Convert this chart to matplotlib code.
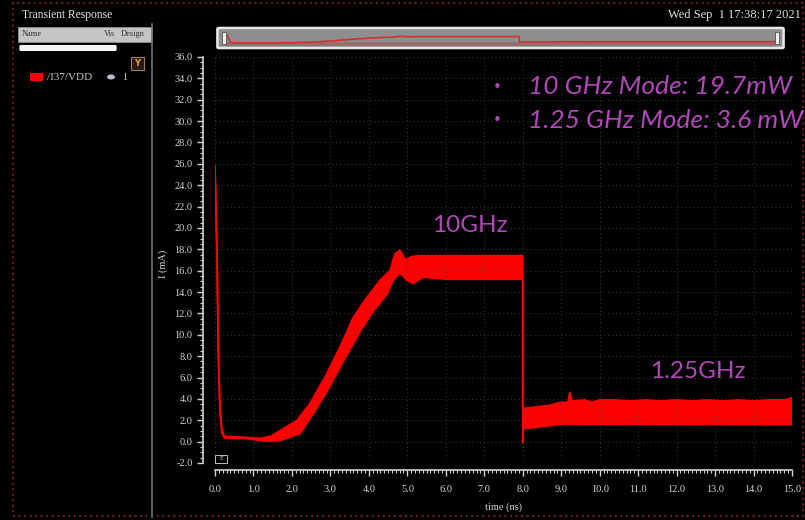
import matplotlib
matplotlib.use("Agg")
import matplotlib.pyplot as plt
from matplotlib.lines import Line2D
from matplotlib.patches import Rectangle, FancyBboxPatch, Ellipse
from matplotlib.ticker import MultipleLocator, FormatStrFormatter

# /I37/VDD current (upper / lower edge of the band)
upper_t = [0.0, 0.05, 0.09, 0.13, 0.18, 0.25, 0.8, 1.17, 1.45, 1.69, 2.13, 2.47,
           2.91, 3.33, 3.59, 3.95, 4.29, 4.55, 4.68, 4.81, 4.95, 5.1, 5.3, 6.0,
           7.0, 8.0, 8.0, 8.7, 8.95, 9.18, 9.22, 9.28, 9.6, 9.8, 10.0, 10.4,
           10.8, 11.2, 11.6, 12.0, 12.4, 12.8, 13.2, 13.6, 14.0, 14.4, 14.8, 15.0]
upper_i = [25.8, 18.0, 8.0, 3.0, 1.0, 0.5, 0.4, 0.3, 0.5, 1.03, 1.97, 3.56,
           6.37, 9.46, 11.6, 13.5, 15.1, 16.0, 17.6, 17.9, 17.0, 17.3, 17.4, 17.4,
           17.4, 17.4, 3.1, 3.4, 3.65, 3.7, 4.6, 3.8, 3.9, 3.7, 3.9, 3.9,
           3.8, 3.9, 3.8, 3.9, 3.8, 3.9, 3.8, 3.9, 3.8, 3.9, 3.9, 4.1]
lower_t = [0.0, 0.05, 0.09, 0.13, 0.18, 0.25, 0.8, 1.17, 1.4, 1.69, 2.21, 2.55,
           2.91, 3.33, 3.77, 4.11, 4.47, 4.63, 4.81, 4.99, 5.15, 5.41, 6.0, 8.0,
           8.0, 8.02, 8.7, 9.0, 15.0]
lower_i = [25.6, 17.8, 7.8, 2.8, 0.8, 0.35, 0.3, 0.1, 0.05, 0.1, 0.75, 2.6,
           4.7, 7.5, 10.3, 12.2, 13.8, 15.1, 15.8, 15.1, 14.8, 15.4, 15.2, 15.2,
           -0.1, 1.2, 1.5, 1.65, 1.6]

y_ticks = [-2.0 + 2.0 * k for k in range(20)]
x_ticks = list(range(16))

W, H = 805, 520
RED = "#ff0000"
PURPLE = "#b048b8"
TICK_GREY = "#d4d4d4"
SERIF = "Liberation Serif"


def fx(x):
    return x / W


def fy(y):
    return 1 - y / H


fig = plt.figure(figsize=(8.05, 5.2), dpi=100, facecolor="black")

# main waveform axes
ax = fig.add_axes([fx(215), fy(463), 577 / W, 406 / H], facecolor="black")
ax.fill(upper_t + lower_t[::-1], upper_i + lower_i[::-1], color=RED, lw=0)
ax.plot(upper_t, upper_i, color=RED, lw=1.3)
ax.plot(lower_t, lower_i, color=RED, lw=1.3)

ax.set_xlim(0, 15)
ax.set_ylim(-2, 36)
ax.set_xticks(x_ticks)
ax.set_yticks(y_ticks)
ax.xaxis.set_minor_locator(MultipleLocator(0.1))
ax.yaxis.set_minor_locator(MultipleLocator(0.5))
ax.xaxis.set_major_formatter(FormatStrFormatter("%.1f"))
ax.yaxis.set_major_formatter(FormatStrFormatter("%.1f"))
ax.grid(True, which="major", color="#3c3c3c", linestyle=(0, (1, 3)), lw=0.7)

for side in ("top", "right"):
    ax.spines[side].set_visible(False)
ax.spines["left"].set_position(("outward", 8.6))
ax.spines["bottom"].set_position(("outward", 5))
for side in ("left", "bottom"):
    ax.spines[side].set_color(TICK_GREY)
    ax.spines[side].set_linewidth(1.2)

ax.tick_params(which="major", colors=TICK_GREY, length=4.5, width=1.0,
               labelsize=7.5, labelcolor=TICK_GREY)
ax.tick_params(which="minor", colors=TICK_GREY, length=2, width=0.8)
ax.tick_params(axis="x", which="major", pad=6)
ax.tick_params(axis="y", which="major", pad=3)
for lab in ax.get_xticklabels() + ax.get_yticklabels():
    lab.set_family(SERIF)

ax.set_xlabel("time (ns)", family=SERIF, fontsize=7.5, color=TICK_GREY)
ax.set_ylabel("I (mA)", family=SERIF, fontsize=7.5, color=TICK_GREY)
ax.xaxis.set_label_coords(0.5, -0.098)
ax.yaxis.set_label_coords(-0.082, 0.49)

# annotations
fig.text(fx(432), fy(226), "10GHz", color=PURPLE, fontsize=17.5, family="Lato",
         va="center")
fig.text(fx(650), fy(372), "1.25GHz", color=PURPLE, fontsize=17.5, family="Lato",
         va="center")
for yy, txt in [(87, "10 GHz Mode: 19.7mW"), (120, "1.25 GHz Mode: 3.6 mW")]:
    fig.text(fx(493), fy(yy), "\u2022", color=PURPLE, fontsize=11, va="center")
    fig.text(fx(528), fy(yy), txt, color=PURPLE, fontsize=19, family="Lato",
             style="italic", va="center")

# overview / scroll bar at the top
fig.add_artist(FancyBboxPatch((fx(219), fy(47)), fx(563), 18 / H,
                              boxstyle="round,pad=0.002", transform=fig.transFigure,
                              facecolor="#8e8e8e", edgecolor="#e8e8e8", lw=1.8))
ov = fig.add_axes([fx(226), fy(46), fx(550), 16 / H], facecolor="none", zorder=3)
ov.fill_between([0, 15], [-7.5, -7.5], [2, 2], color="#9a5a5a", alpha=0.6, lw=0)
ov.plot(upper_t, upper_i, color="#d03030", lw=1.2)
ov.set_xlim(0, 15)
ov.set_ylim(-7.5, 34.8)
ov.axis("off")
for xx in (224, 777):
    fig.add_artist(Rectangle((fx(xx - 2), fy(44)), 4 / W, 12 / H, transform=fig.transFigure,
                             facecolor="#f0f0f0", edgecolor="#505050", lw=0.6, zorder=4))

fig.text(fx(801), fy(15), "Wed Sep  1 17:38:17 2021", color="#e0e0e0", fontsize=9,
         family=SERIF, ha="right", va="center")

# left panel (signal browser)
fig.text(fx(22), fy(15), "Transient Response", color="#e8e8e8", fontsize=8.3,
         family=SERIF, va="center")
fig.add_artist(Rectangle((fx(18), fy(42)), fx(134), 15 / H, transform=fig.transFigure,
                         facecolor="#c4c4c4", edgecolor="#909090", lw=0.6))
fig.text(fx(22), fy(34), "Name", color="#303030", fontsize=6, family=SERIF, va="center")
fig.text(fx(104), fy(34), "Vis", color="#303030", fontsize=6, family=SERIF, va="center")
fig.text(fx(121), fy(34), "Design", color="#303030", fontsize=6, family=SERIF, va="center")
fig.add_artist(FancyBboxPatch((fx(21), fy(50)), fx(94), 4 / H, boxstyle="round,pad=0.002",
                              transform=fig.transFigure, facecolor="#f4f4f4", lw=0))
fig.add_artist(Rectangle((fx(131), fy(70)), 13 / W, 13 / H, transform=fig.transFigure,
                         facecolor="#2a1a10", edgecolor="#a08060", lw=0.8))
fig.text(fx(137.5), fy(63), "Y", color="#f0a040", fontsize=6, ha="center", va="center",
         weight="bold")
fig.add_artist(Rectangle((fx(30), fy(81)), 13 / W, 8 / H, transform=fig.transFigure,
                         facecolor=RED, lw=0))
fig.text(fx(47), fy(77), "/I37/VDD", color="#c8c8c8", fontsize=8, family=SERIF, va="center")
fig.add_artist(Ellipse((fx(111), fy(77)), 8 / W, 5 / H, transform=fig.transFigure,
                       facecolor="#b0c0d0", lw=0))
fig.text(fx(122), fy(77), "1", color="#c8c8c8", fontsize=7, family=SERIF, va="center")

fig.add_artist(Line2D([fx(152), fx(152)], [fy(24), fy(517)], transform=fig.transFigure,
                      color="#707070", lw=1.2))

# small marker box under the plot origin
fig.add_artist(Rectangle((fx(215), fy(463)), 12 / W, 8 / H, transform=fig.transFigure,
                         facecolor="black", edgecolor="#c0c0c0", lw=0.7))
fig.text(fx(221), fy(459), "E", color="#c0c0c0", fontsize=4.5, ha="center", va="center")

# window frame
fig.add_artist(Rectangle((fx(13), fy(516)), fx(790), 513 / H, transform=fig.transFigure,
                         fill=False, edgecolor="#6a1c28", lw=1.5, linestyle=":"))

fig.savefig("out.png", dpi=100, facecolor="black")
